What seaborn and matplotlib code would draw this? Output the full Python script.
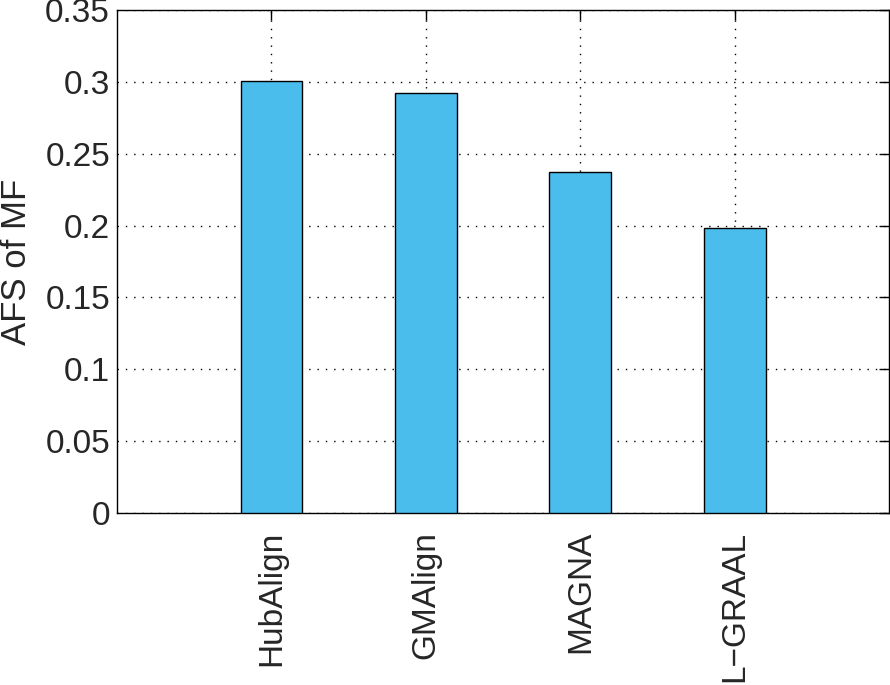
import matplotlib
matplotlib.use("Agg")
import matplotlib.pyplot as plt
import seaborn as sns

# Data
methods = ["HubAlign", "GMAlign", "MAGNA", "L\u2212GRAAL"]
afs_mf = [0.3005, 0.2925, 0.2375, 0.1985]
y_ticks = [0, 0.05, 0.1, 0.15, 0.2, 0.25, 0.3, 0.35]
y_tick_labels = ["0", "0.05", "0.1", "0.15", "0.2", "0.25", "0.3", "0.35"]

sns.set_style("white")
plt.rcParams["font.family"] = ["Liberation Sans", "DejaVu Sans"]

fig = plt.figure(figsize=(8.9, 6.85), dpi=100)
ax = fig.add_axes([0.1315, 0.2511, 0.8675, 0.7343])

sns.barplot(x=methods, y=afs_mf, color="#4bbded", width=0.4,
            edgecolor="black", linewidth=1.0, saturation=1, ax=ax, zorder=3)

ax.set_xlim(-1, 4)
ax.set_ylim(0, 0.35)
ax.set_yticks(y_ticks)
ax.set_yticklabels(y_tick_labels)
ax.set_xticks(range(len(methods)))
ax.set_xticklabels(methods, rotation=90)
ax.set_ylabel("AFS of MF", fontsize=25, labelpad=9)

ax.tick_params(axis="both", direction="in", length=7, width=1, labelsize=24,
               top=True, right=True, color="black")
ax.tick_params(axis="x", pad=13)
ax.tick_params(axis="y", pad=5)
ax.grid(True, linestyle=(0, (1, 5)), color="black", linewidth=1.0, zorder=0)
ax.set_axisbelow(True)
for side in ax.spines.values():
    side.set_visible(True)
    side.set_color("black")
    side.set_linewidth(1.0)

fig.savefig("out.png", dpi=100)
